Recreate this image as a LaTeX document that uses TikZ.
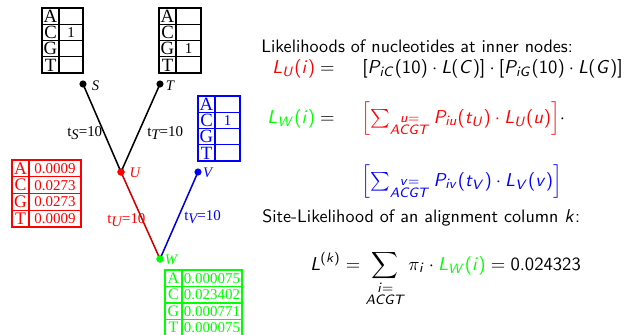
\documentclass[tikz,border=0pt]{standalone}
\usepackage{amsmath}
\usepackage[no-math]{fontspec}
\newfontfamily\tfont{Liberation Serif}
\makeatletter
\DeclareSymbolFont{sfit}{OT1}{cmss}{m}{sl}
\DeclareSymbolFont{sfup}{OT1}{cmss}{m}{n}
\newcommand\setsfmath{%
\count@=65
\loop \mathcode\count@=\numexpr"7000+\symsfit*"100+\count@\relax \ifnum\count@<90 \advance\count@ 1 \repeat
\count@=97
\loop \mathcode\count@=\numexpr"7000+\symsfit*"100+\count@\relax \ifnum\count@<122 \advance\count@ 1 \repeat
\count@=48
\loop \mathcode\count@=\numexpr"7000+\symsfup*"100+\count@\relax \ifnum\count@<57 \advance\count@ 1 \repeat
\mathcode`(=\numexpr"4000+\symsfup*"100+40\relax
\mathcode`)=\numexpr"5000+\symsfup*"100+41\relax
\mathcode`[=\numexpr"4000+\symsfup*"100+91\relax
\mathcode`]=\numexpr"5000+\symsfup*"100+93\relax
\mathcode`.=\numexpr"0000+\symsfup*"100+46\relax}
\AtBeginDocument{\setsfmath}
\makeatother
\tikzset{
  dot/.style={circle,fill,inner sep=0pt,minimum size=4.2pt},
  tline/.style={line width=0.9pt},
  nlab/.style={font=\tfont\itshape\fontsize{8.6}{9}\selectfont,inner sep=0pt},
  elab/.style={font=\tfont\fontsize{8.8}{9}\selectfont,inner sep=0pt,anchor=base west},
  txt/.style={font=\sffamily\fontsize{10.6}{13}\selectfont,inner sep=0pt},
  mth/.style={font=\sffamily\fontsize{11.1}{13}\selectfont,inner sep=0pt},
  cell/.style={inner sep=0pt},
}
% table: #1 x, #2 y, #3 value-column width, #4 row height, #5 colour, #6-#9 values
\newcommand\lsz{\fontsize{11}{11}\selectfont}
\newcommand\dsz{\fontsize{8.8}{9}\selectfont}
\newcommand\ntab[9]{%
  \begin{scope}[#5,line width=0.8pt]
    \draw (#1,#2) rectangle ({#1+17+#3},{#2+4*#4});
    \draw ({#1+17},#2) -- ({#1+17},{#2+4*#4});
    \draw (#1,{#2+#4}) -- ({#1+17+#3},{#2+#4});
    \draw (#1,{#2+2*#4}) -- ({#1+17+#3},{#2+2*#4});
    \draw (#1,{#2+3*#4}) -- ({#1+17+#3},{#2+3*#4});
    \node[cell,font=\tfont\lsz] at ({#1+8.5},{#2+0.5*#4}) {A};
    \node[cell,font=\tfont\lsz] at ({#1+8.5},{#2+1.5*#4}) {C};
    \node[cell,font=\tfont\lsz] at ({#1+8.5},{#2+2.5*#4}) {G};
    \node[cell,font=\tfont\lsz] at ({#1+8.5},{#2+3.5*#4}) {T};
    \node[cell,font=\tfont\dsz] at ({#1+17+#3/2},{#2+0.5*#4}) {#6};
    \node[cell,font=\tfont\dsz] at ({#1+17+#3/2},{#2+1.5*#4}) {#7};
    \node[cell,font=\tfont\dsz] at ({#1+17+#3/2},{#2+2.5*#4}) {#8};
    \node[cell,font=\tfont\dsz] at ({#1+17+#3/2},{#2+3.5*#4}) {#9};
  \end{scope}}
\begin{document}
\begin{tikzpicture}[x=0.588pt,y=-0.588pt]
\fill[white] (0,0) rectangle (632,334);
\useasboundingbox (0,0) rectangle (632,334);
% tables
\ntab{42}{8}{24}{16.25}{black}{}{1}{}{}
\ntab{159}{8}{25}{16.25}{black}{}{}{1}{}
\ntab{198}{96}{25}{16.25}{blue}{}{1}{}{}
\renewcommand\lsz{\fontsize{10.4}{11}\selectfont}
\ntab{12}{160}{52}{16.75}{red}{0.0009}{0.0273}{0.0273}{0.0009}
\renewcommand\lsz{\fontsize{9.4}{10}\selectfont}
\ntab{165}{270}{60}{16.5}{green}{0.000075}{0.023402}{0.000771}{0.000075}
% tree
\node[dot] (S) at (83,84) {};
\node[dot] (T) at (160,84) {};
\node[dot,red] (U) at (121,172) {};
\node[dot,blue] (V) at (198,172) {};
\node[dot,green] (W) at (160,259) {};
\draw[tline] (S.center) -- (U.center);
\draw[tline] (T.center) -- (U.center);
\draw[tline,red!80!black] (U.center) -- (W.center);
\draw[tline,blue!85!black] (V.center) -- (W.center);
\node[dot,red] at (U) {};
\node[dot,green] at (W) {};
\node[nlab] (Sl) at (95.5,86) {S};
\node[nlab] (Tl) at (170,86) {T};
\node[nlab,red] (Ul) at (135,172.5) {U};
\node[nlab,blue] (Vl) at (207.5,172.5) {V};
\node[nlab,green] (Wl) at (171,260) {W};
\node[elab] (eS) at (67,136) {t\raisebox{-0.55ex}{\itshape\fontsize{8.6}{9}\selectfont S}=10};
\node[elab] (eT) at (147,136) {t\raisebox{-0.55ex}{\itshape\fontsize{8.6}{9}\selectfont T}=10};
\node[elab,red] (eU) at (107,223) {t\raisebox{-0.55ex}{\itshape\fontsize{8.6}{9}\selectfont U}=10};
\node[elab,blue] (eV) at (184,220) {t\raisebox{-0.55ex}{\itshape\fontsize{8.6}{9}\selectfont V}=10};
% formulas
\node[txt,anchor=base west] (h1) at (261,52) {Likelihoods of nucleotides at inner nodes:};
\node[mth,anchor=base east] (lu) at (335,73) {$\textcolor{red}{L_U(i)} =$};
\node[mth,anchor=base west] (lur) at (362,73) {$[P_{iC}(10)\cdot L(C)]\cdot[P_{iG}(10)\cdot L(G)]$};
\node[mth,anchor=base east] (lw) at (335,123) {$\textcolor{green}{L_W(i)} =$};
\node[mth,anchor=base west] (lwr) at (361,123) {$\textcolor{red}{\left[\sum_{\substack{u=\\ACGT}} P_{iu}(t_U)\cdot L_U(u)\right]}\cdot$};
\node[mth,anchor=base west] (lv) at (361,186) {$\textcolor{blue}{\left[\sum_{\substack{v=\\ACGT}} P_{iv}(t_V)\cdot L_V(v)\right]}$};
\node[txt,anchor=base west] (h2) at (262,222) {Site-Likelihood of an alignment column $k$:};
\node[mth,anchor=base west] (lk) at (310,270) {$\displaystyle L^{(k)} = \sum_{\substack{i=\\ACGT}} \pi_i\cdot \textcolor{green}{L_W(i)} = 0.024323$};
\end{tikzpicture}
\end{document}
